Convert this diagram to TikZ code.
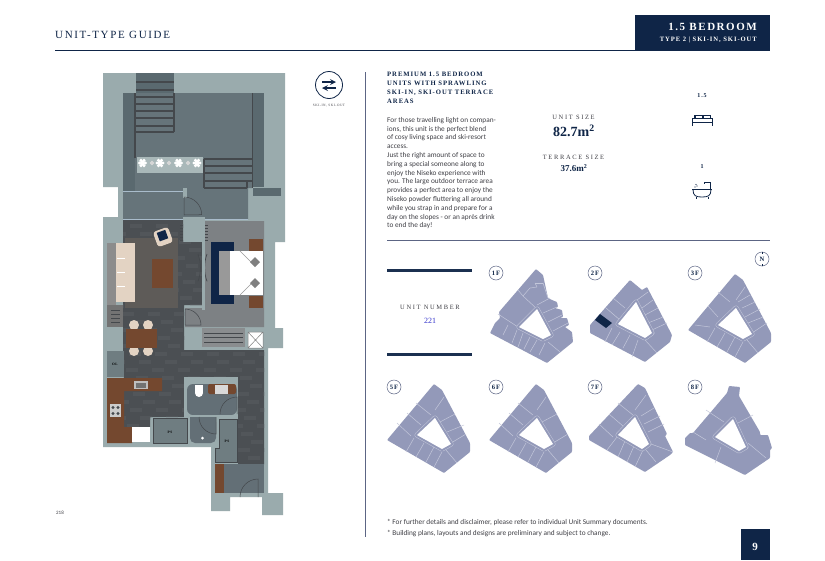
\documentclass[tikz,border=0pt]{standalone}
\usepackage{fontspec}
\usetikzlibrary{positioning}
\setmainfont{Carlito}
\newfontfamily\capsone[LetterSpace=15]{Liberation Serif}
\newfontfamily\capstwo[LetterSpace=25]{Liberation Serif}
\newfontfamily\capsbold[LetterSpace=14]{Liberation Serif Bold}
\newfontfamily\numfont{Liberation Serif Bold}
\newfontfamily\plainserif{Liberation Serif}
\definecolor{navy}{HTML}{0F2547}
\definecolor{rulegrey}{HTML}{5C6584}
\definecolor{wallgrey}{HTML}{9AABAD}
\definecolor{terrace}{HTML}{66747A}
\definecolor{terdark}{HTML}{5A696F}
\definecolor{tread}{HTML}{44484C}
\definecolor{floorgrey}{HTML}{4B4F53}
\definecolor{plank}{HTML}{52565A}
\definecolor{rug}{HTML}{5E5B58}
\definecolor{carpet}{HTML}{7D8184}
\definecolor{wood}{HTML}{74482F}
\definecolor{tile}{HTML}{636F76}
\definecolor{shaft}{HTML}{6F7D81}
\definecolor{beige}{HTML}{E3D3C3}
\definecolor{glasslt}{HTML}{A9BCCB}
\definecolor{keyblue}{HTML}{9399B9}
\definecolor{keyline}{HTML}{C3C7DA}
\definecolor{bodygrey}{HTML}{3F3F45}
\tikzset{
  lbl/.style={inner sep=0pt, text=bodygrey},
  floortag/.style={draw=rulegrey, circle, line width=0.5pt, minimum size=14pt, inner sep=0pt, text=navy, font=\capsbold\fontsize{6.6}{6.6}\selectfont},
  treadline/.style={draw=tread, line width=1.1pt},
  doorline/.style={draw=tread, line width=0.5pt},
  glassline/.style={draw=glasslt, line width=1pt},
  keydiv/.style={draw=keyline, line width=0.5pt},
  navyrule/.style={draw=navy, line width=1pt},
}
% one key plan: position, outer outline, inner court, unit divisions
\newcommand{\keyfloor}[5]{%
  \begin{scope}[shift={(#1,#2)}]
    \fill[keyblue, rounded corners=0.8pt] #3 -- cycle;
    \foreach \p/\q in {#5} {\draw[keydiv] \p -- \q;}
    \draw[keyline, line width=5pt, line join=round] #4 -- cycle;
    \draw[keyblue, line width=4pt, line join=round] #4 -- cycle;
    \fill[white] #4 -- cycle;
  \end{scope}}
\def\typicalouter{(0,0) -- (8,6) -- (36,59) -- (36,68) -- (10,89) -- (-47,56)}
\def\typicalinner{(1,34) -- (17,60) -- (8,65) -- (-17,51)}
\begin{document}
\begin{tikzpicture}[x=1pt,y=-1pt]
  \useasboundingbox (0,0) rectangle (825,560);
  \fill[white] (0,0) rectangle (825,560);

  % Header
  \node[lbl, anchor=west, text=navy, font=\capsone\fontsize{11}{11}\selectfont] (guide) at (55,35) {UNIT-TYPE GUIDE};
  \draw[navyrule] (55,50.5) -- (635,50.5);
  \fill[navy] (635,15) rectangle (770,51);
  \node[lbl, anchor=east, text=white, font=\capsbold\fontsize{11}{11}\selectfont] (title) at (757,27) {1.5 BEDROOM};
  \node[lbl, anchor=east, text=white, font=\capsbold\fontsize{6.6}{6.6}\selectfont] (subtitle) at (757,40) {TYPE 2 | SKI-IN, SKI-OUT};

  % Floor plan: walls
  \fill[wallgrey] (103,73) -- (285,73) -- (285,242) -- (275,242) -- (275,328) -- (283,328) -- (283,348)
    -- (268,348) -- (268,493) -- (283,493) -- (283,515) -- (262,515) -- (262,497) -- (230,497)
    -- (230,511) -- (211,511) -- (211,447) -- (103,447) -- (103,217) -- (118,217) -- (118,187)
    -- (103,187) -- cycle;

  % Terrace
  \fill[terrace] (123,93) -- (252,93) -- (252,188) -- (248,188) -- (248,219) -- (123,219) -- cycle;
  \fill[terdark] (252,93) rectangle (264,187);
  \fill[terdark] (253,188) rectangle (281,196);
  \fill[terdark] (123,93) rectangle (135,191);
  \fill[terdark] (136,73) rectangle (174,93);
  \foreach \y in {82,90,97,104,111,118,126,132} {
    \draw[treadline] (136,\y) -- (174,\y);
  }
  \draw[treadline] (174,93) -- (174,132);
  \draw[treadline] (135,93) -- (135,158);
  \draw[treadline] (252.5,93) -- (252.5,188);
  \foreach \y in {159,166,173,181} {
    \draw[treadline] (204,\y) -- (252,\y);
  }
  \draw[treadline] (204,188) -- (247,188);
  \draw[treadline] (204,159) -- (204,188);
  \draw[treadline] (247,181) -- (247,188);

  % Planter
  \fill[wallgrey!85!white] (136.5,157) rectangle (203,173);
  \foreach \x in {142.5,160,178.5,197} {
    \fill[white] (\x,163) circle (2.5pt);
    \foreach \a in {0,60,...,300} {
      \fill[white] (\x,163) ++(\a:3pt) circle (1.7pt);
    }
  }
  \foreach \x in {152,169,188} {
    \fill[white!85!black] (\x,163) circle (1.2pt);
    \foreach \a in {0,90,...,270} {
      \fill[white!85!black] (\x,163) ++(\a:1.3pt) circle (1.1pt);
    }
  }

  % Terrace door and glazing
  \draw[glassline] (123,191) -- (184,191);
  \draw[glassline] (123,219.5) -- (183,219.5);
  \draw[glassline] (205,219.5) -- (248,219.5);
  \fill[wallgrey] (183,188) rectangle (187,198);
  \draw[doorline] (184,215) -- (184,197) arc[start angle=90, end angle=0, radius=17.7pt] -- cycle;
  \fill[wallgrey] (183,217) rectangle (205,242);

  % Wood floor
  \begin{scope}
    \clip (123,220) -- (183,220) -- (183,242) -- (202,242) -- (202,305) -- (184,305) -- (184,350) -- (264,350)
      -- (264,464) -- (238,464) -- (238,377) -- (184,377) -- (184,417) -- (150,417) -- (150,427)
      -- (124,427) -- (124,378) -- (123,350) -- cycle;
    \fill[floorgrey] (100,200) rectangle (280,480);
    \foreach \y in {224,232,...,464} {
      \pgfmathsetmacro{\off}{mod(\y*7,23)}
      \foreach \x in {0,26,...,182} {
        \fill[plank] (100+\x+\off,\y) rectangle (112+\x+\off,\y+4);
      }
    }
  \end{scope}

  % Bedroom
  \fill[carpet] (205,221) -- (264,221) -- (264,327) -- (185,327) -- (185,308) -- (205,308) -- cycle;
  \fill[navy] (211,242) rectangle (234,304);
  \fill[white] (219,251) rectangle (263,295);
  \fill[white!60!black] (219,251) rectangle (230,295);
  \fill[wood] (249,239) rectangle (263,251);
  \fill[wood] (249,296) rectangle (263,308);
  \draw[white!60!black, line width=0.4pt] (240,251) -- (252,263) (240,295) -- (252,283);
  \foreach \y in {262,283} {
    \fill[white!50!black] (255,\y-5) -- (260,\y) -- (255,\y+5) -- (250,\y) -- cycle;
  }
  \draw[doorline] (185,325) -- (185,309) arc[start angle=90, end angle=0, radius=16pt] -- cycle;

  % Living room
  \fill[rug] (125,238) rectangle (178,308);
  \fill[white!55!black] (107,243) rectangle (116,305);
  \fill[beige] (116,243) rectangle (135,302);
  \foreach \y in {258,272,286} {
    \draw[white, line width=0.6pt] (117,\y) -- (125,\y);
  }
  \fill[wood] (152,259) rectangle (173,288);
  \begin{scope}[shift={(163,237)}, rotate=20]
    \fill[beige, rounded corners=3pt] (-8,-8) rectangle (8,8);
    \fill[navy] (-4.5,-6) rectangle (4.5,3);
  \end{scope}
  \draw[tread, line width=0.7pt] (198,254) arc[start angle=20, end angle=-20, radius=40pt];
  \draw[tread, line width=0.7pt] (207,254) arc[start angle=160, end angle=200, radius=40pt];
  \foreach \y in {225,228,...,240} {
    \draw[tread, line width=0.5pt] (180,\y) -- (183,\y);
    \draw[tread, line width=0.5pt] (205,\y) -- (208,\y);
  }
  \fill[wallgrey] (202,242) rectangle (205,310);

  % Dining and services
  \fill[white!45!black] (107,305) rectangle (123,327);
  \foreach \y in {310,314,...,322} {
    \draw[tread, line width=0.4pt] (111,\y) -- (120,\y);
  }
  \fill[shaft] (107,351) rectangle (124,377);
  \node[lbl, text=black, font=\capsbold\fontsize{3.5}{3.5}\selectfont] (ol) at (115,364) {OL};
  \foreach \x in {134,148} {
    \fill[beige] (\x,325) circle (5pt);
    \fill[beige] (\x,351) circle (5pt);
  }
  \fill[wood] (126,329) rectangle (157,348);
  \fill[white!35!floorgrey] (202,328) rectangle (245,347);
  \foreach \y in {333,337.5,342} {
    \draw[tread, line width=0.4pt] (204,\y) -- (243,\y);
  }
  \fill[white] (248,332) rectangle (263,348);
  \draw[white!50!black, line width=0.5pt] (248,332) rectangle (263,348) (248,332) -- (263,348) (248,348) -- (263,332);

  % Kitchen
  \fill[wood] (107,378) -- (162,378) -- (162,391) -- (124,391) -- (124,427) -- (132,427) -- (132,443) -- (107,443) -- cycle;
  \fill[white!75!black] (134,381) rectangle (148,389);
  \fill[white!45!black] (136,383) rectangle (146,388);
  \fill[white!80!black] (110,404) rectangle (121,417);
  \foreach \y in {407.5,413.5} {
    \fill[tread] (113,\y) circle (1.6pt);
    \fill[tread] (118,\y) circle (1.6pt);
  }
  \fill[white] (132,427) rectangle (150,442);

  % Bathroom
  \fill[wallgrey] (184,377) rectangle (238,417);
  \fill[tile, rounded corners=6pt] (187,384) -- (237,384) -- (237,415) -- (187,415) -- cycle;
  \fill[wallgrey] (184,415) rectangle (238,418);
  \fill[wood, rounded corners=2pt] (208,384) rectangle (236,394);
  \fill[white!85!black] (215,385) rectangle (228,394);
  \fill[white] (195,385) rectangle (203,393);
  \fill[white] (199,393) circle (4pt);
  \draw[doorline] (220,414) arc[start angle=180, end angle=90, radius=17pt] -- (237,414);
  \fill[tile, rounded corners=5pt] (190,417) -- (216,417) -- (216,443) -- (190,443) -- cycle;
  \fill[tile] (190,417) rectangle (216,430);
  \draw[doorline] (199,417) arc[start angle=180, end angle=270, radius=17pt] -- (216,417);
  \fill[white] (202.5,438) circle (1.5pt);

  % Shafts
  \fill[shaft] (153,418) rectangle (187,443);
  \draw[tread, line width=0.4pt] (153,418) rectangle (187,443);
  \node[lbl, text=black, font=\capsbold\fontsize{3.5}{3.5}\selectfont] (psone) at (170,432.5) {PS};
  \fill[shaft] (219,419) -- (237,419) -- (237,462) -- (215,462) -- (215,448) -- (219,448) -- cycle;
  \draw[tread, line width=0.4pt] (219,419) -- (237,419) -- (237,462) -- (215,462) -- (215,448) -- (219,448) -- cycle;
  \node[lbl, text=black, font=\capsbold\fontsize{3.5}{3.5}\selectfont] (pstwo) at (227,441) {PS};

  % Entrance
  \fill[tile] (224,464) rectangle (264,493);
  \fill[wood] (215,464) rectangle (224,493);
  \draw[doorline] (240,497) arc[start angle=180, end angle=90, radius=18pt] -- (258,497);

  % Plan number and divider
  \node[lbl, font=\fontsize{5}{5}\selectfont] (plannum) at (60,512.5) {218};
  \draw[rulegrey, line width=1pt] (365,72) -- (365,537);

  % Ski icon
  \draw[navy, line width=0.8pt] (329,85) circle (13.5pt);
  \draw[navy, line width=1.6pt, -stealth] (322,82) -- (336,82);
  \draw[navy, line width=1.6pt, -stealth] (336,88) -- (322,88);
  \node[lbl, font=\capsone\fontsize{3.4}{3.4}\selectfont] (skilabel) at (329,106) {SKI-IN, SKI-OUT};

  % Description
  \node[lbl, anchor=north west, align=left, text=navy, font=\capsbold\fontsize{6.7}{9}\selectfont] (headline) at (387,72)
    {PREMIUM 1.5 BEDROOM\\UNITS WITH SPRAWLING\\SKI-IN, SKI-OUT TERRACE\\AREAS};
  \node[lbl, anchor=north west, align=left, font=\fontsize{7.3}{8.8}\selectfont] (body) at (387,117)
    {For those travelling light on compan-\\ions, this unit is the perfect blend\\of cosy living space and ski-resort\\access.\\Just the right amount of space to\\bring a special someone along to\\enjoy the Niseko experience with\\you. The large outdoor terrace area\\provides a perfect area to enjoy the\\Niseko powder fluttering all around\\while you strap in and prepare for a\\day on the slopes - or an après drink\\to end the day!};

  % Sizes
  \node[lbl, font=\capstwo\fontsize{6.5}{6.5}\selectfont] (unitsize) at (573.5,117.5) {UNIT SIZE};
  \node[lbl, text=navy, font=\numfont\fontsize{14}{14}\selectfont] (unitarea) at (574,130.5) {82.7m\textsuperscript{2}};
  \node[lbl, font=\capstwo\fontsize{6.5}{6.5}\selectfont] (terrsize) at (573.5,157.5) {TERRACE SIZE};
  \node[lbl, text=navy, font=\numfont\fontsize{9}{9}\selectfont] (terrarea) at (574,168) {37.6m\textsuperscript{2}};

  % Bed and bath icons
  \node[lbl, text=navy, font=\capsbold\fontsize{6}{6}\selectfont] (bedcount) at (702,96) {1.5};
  \fill[navy] (694,114.5) rectangle (711,118);
  \fill[white] (695.5,115.5) rectangle (701.5,117.5);
  \fill[white] (703.5,115.5) rectangle (709.5,117.5);
  \draw[navy, line width=1pt] (692.5,126) -- (692.5,118) -- (712.5,118) -- (712.5,126);
  \draw[navy, line width=1pt] (692.5,122.5) -- (712.5,122.5);
  \node[lbl, text=navy, font=\capsbold\fontsize{6}{6}\selectfont] (bathcount) at (702,167) {1};
  \draw[navy, line width=0.8pt] (692,189.5) -- (712,189.5);
  \draw[navy, line width=0.8pt] (693,189.5) .. controls (693,196) and (696,197) .. (702,197) .. controls (708,197) and (711,196) .. (711,189.5);
  \draw[navy, line width=0.8pt] (710,189.5) -- (710,182) -- (704,182) -- (704,184);
  \draw[navy, line width=0.8pt] (696,197) -- (696,198.5) (708,197) -- (708,198.5);
  \foreach \x/\y in {695/187,697/186,696/184.5} {
    \fill[navy] (\x,\y) circle (0.6pt);
  }

  % Unit number
  \draw[navy!95!white, line width=3pt] (387,270.5) -- (472,270.5);
  \draw[navy!95!white, line width=3pt] (387,354.5) -- (472,354.5);
  \draw[rulegrey, line width=1pt] (387,240.5) -- (770,240.5);
  \node[lbl, font=\capstwo\fontsize{6.5}{6.5}\selectfont] (unitlabel) at (430,307) {UNIT NUMBER};
  \node[lbl, text=blue!60!gray, font=\plainserif\fontsize{8}{8}\selectfont] (unitnum) at (430,321) {221};

  % Key plans
  \keyfloor{536}{269}{(0,0) -- (7,6) -- (12,29) -- (16,31) -- (21,33) -- (22,38) -- (19,39) -- (26,41) -- (27,48) -- (24,49) -- (31,49) -- (33,56) -- (29,58) -- (36,63) -- (37,73) -- (11,94) -- (-46,64) -- (-41,54) -- (-36,49) -- (-37,43)}
    {(1,40) -- (15,66) -- (7,70) -- (-17,58)}
    {{(-18,21)}/{(-13,27)},{(-13,27)}/{(-6,19)},{(-6,19)}/{(1,18)},{(1,18)}/{(-1,14)},{(-1,14)}/{(7,14)},{(7,14)}/{(12,29)},{(-13,27)}/{(1,40)},{(-38,45)}/{(-18,58)},{(1,36)}/{(14,29)},{(7,44)}/{(21,38)},{(12,53)}/{(26,46)},{(17,62)}/{(32,54)},{(-28,56)}/{(-33,66)},{(-19,61)}/{(-24,74)},{(-13,64)}/{(-18,78)},{(-6,68)}/{(-12,80)},{(1,71)}/{(-6,83)},{(9,74)}/{(3,86)},{(12,73)}/{(24,83)}}
  \keyfloor{630}{280}{(0,0) -- (12,10) -- (17,7) -- (42,55) -- (40,62) -- (15,82) -- (-40,53) -- (-40,45)}
    {(6,22) -- (22,53) -- (15,58) -- (-12,44)}
    {{(-17,18)}/{(-5,28)},{(-24,28)}/{(-10,40)},{(7,20)}/{(18,12)},{(12,28)}/{(23,20)},{(15,35)}/{(28,28)},{(18,43)}/{(33,37)},{(22,50)}/{(37,43)},{(-18,48)}/{(-25,62)},{(-10,52)}/{(-18,65)},{(0,55)}/{(-7,68)},{(8,60)}/{(2,77)},{(15,60)}/{(27,73)}}
  \fill[navy] (600,314) -- (612,323) -- (606,328) -- (595,320) -- cycle;
  \keyfloor{735}{274}{\typicalouter}{\typicalinner}
    {{(-17,18)}/{(-5,28)},{(-27,32)}/{(-17,43)},{(-40,51)}/{(-25,53)},{(10,13)}/{(1,26)},{(3,28)}/{(15,21)},{(7,34)}/{(20,28)},{(10,43)}/{(25,35)},{(13,49)}/{(28,43)},{(17,59)}/{(32,49)},{(-20,54)}/{(-28,68)},{(-10,59)}/{(-18,73)},{(0,63)}/{(-8,78)},{(8,68)}/{(0,83)},{(12,66)}/{(23,79)}}
  \keyfloor{434}{384}{\typicalouter}{\typicalinner}
    {{(-18,19)}/{(-3,31)},{(-27,29)}/{(-13,41)},{(-37,39)}/{(-23,52)},{(10,13)}/{(1,26)},{(6,38)}/{(21,30)},{(13,48)}/{(30,41)},{(17,59)}/{(32,50)},{(-20,54)}/{(-28,68)},{(-10,59)}/{(-18,73)},{(0,63)}/{(-8,78)},{(8,68)}/{(0,83)},{(12,66)}/{(23,79)}}
  \keyfloor{536}{384}{\typicalouter}{\typicalinner}
    {{(-18,19)}/{(-3,31)},{(-27,29)}/{(-13,41)},{(-37,39)}/{(-23,52)},{(10,13)}/{(1,26)},{(6,38)}/{(21,30)},{(17,59)}/{(32,50)},{(-20,54)}/{(-28,68)},{(-10,59)}/{(-18,73)},{(0,63)}/{(-8,78)},{(8,68)}/{(0,83)},{(12,66)}/{(23,79)}}
  \keyfloor{638}{384}{(0,0) -- (7,4) -- (29,50) -- (27,52) -- (35,68) -- (32,71) -- (7,88) -- (-49,56) -- (-49,52)}
    {(-3,33) -- (11,60) -- (4,65) -- (-20,51)}
    {{(-20,19)}/{(-5,31)},{(-29,30)}/{(-15,42)},{(-39,40)}/{(-25,53)},{(8,11)}/{(-3,26)},{(3,32)}/{(16,24)},{(6,40)}/{(22,32)},{(10,48)}/{(26,40)},{(13,60)}/{(35,68)},{(-21,53)}/{(-31,66)},{(-13,57)}/{(-20,73)},{(-4,62)}/{(-11,78)},{(5,66)}/{(-3,83)},{(8,66)}/{(18,78)}}
  \keyfloor{729}{386}{(0,0) -- (11,1) -- (10,10) -- (31,46) -- (31,49) -- (39,49) -- (43,62) -- (41,64) -- (41,72) -- (16,89) -- (-44,59) -- (-44,52) -- (-39,47) -- (-36,47) -- (-2,7)}
    {(4,33) -- (17,61) -- (10,65) -- (-14,51)}
    {{(-23,24)}/{(-5,36)},{(24,29)}/{(9,37)},{(-36,46)}/{(-23,54)},{(-8,61)}/{(-14,77)},{(19,57)}/{(37,72)}}

  % Floor tags
  \foreach \name/\tx/\ty/\tag in {tagone/496/273/1F,tagtwo/595/273/2F,tagthree/695/273/3F,tagfive/394/387/5F,tagsix/496/387/6F,tagseven/595/387/7F,tageight/695/387/8F} {
    \node[floortag] (\name) at (\tx,\ty) {\tag};
  }
  \node[floortag] (northtag) at (762,259) {N};
  \draw[navy, line width=0.5pt] (northtag.north) -- ++(0,2);
  \draw[navy, line width=0.5pt] (northtag.south) -- ++(0,-2);

  % Footnotes
  \node[lbl, anchor=west, font=\fontsize{7.3}{7.3}\selectfont] (noteone) at (387,522.5) {* For further details and disclaimer, please refer to individual Unit Summary documents.};
  \node[lbl, anchor=west, font=\fontsize{7.3}{7.3}\selectfont] (notetwo) at (387,534) {* Building plans, layouts and designs are preliminary and subject to change.};

  % Page number
  \fill[navy] (741,529) rectangle (770,560);
  \node[lbl, text=white, font=\numfont\fontsize{11}{11}\selectfont] (pagenum) at (755,547) {9};
\end{tikzpicture}
\end{document}
